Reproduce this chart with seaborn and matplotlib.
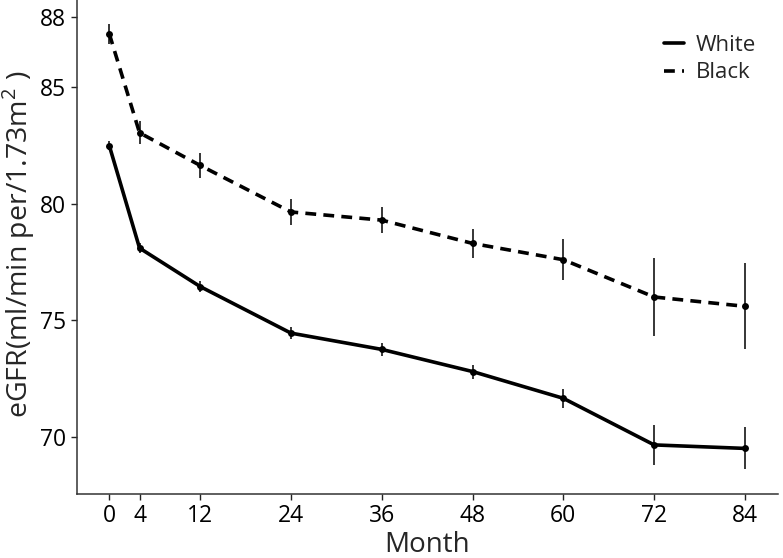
import numpy as np
import pandas as pd
import seaborn as sns
import matplotlib.pyplot as plt

months = [0, 4, 12, 24, 36, 48, 60, 72, 84]
white_mean = [82.5, 78.1, 76.45, 74.45, 73.75, 72.8, 71.65, 69.65, 69.5]
white_err = [0.2, 0.2, 0.22, 0.25, 0.27, 0.3, 0.4, 0.86, 0.9]
black_mean = [87.3, 83.05, 81.65, 79.65, 79.3, 78.3, 77.6, 76.0, 75.6]
black_err = [0.43, 0.5, 0.54, 0.54, 0.56, 0.64, 0.89, 1.69, 1.84]
groups = ['White', 'Black']

df = pd.concat([
    pd.DataFrame({'Month': months, 'eGFR': white_mean, 'err': white_err, 'Race': 'White'}),
    pd.DataFrame({'Month': months, 'eGFR': black_mean, 'err': black_err, 'Race': 'Black'}),
])

sns.set_style('ticks')
plt.rcParams['font.family'] = ['Open Sans', 'DejaVu Sans']
plt.rcParams['mathtext.fontset'] = 'custom'
plt.rcParams['mathtext.rm'] = 'Open Sans'

fig = plt.figure(figsize=(7.83, 5.58), dpi=100)
ax = fig.add_axes([0.098, 0.115, 0.895, 0.885])

sns.lineplot(data=df, x='Month', y='eGFR', style='Race', style_order=groups,
             dashes={'White': '', 'Black': (3.0, 2.0)}, color='black',
             linewidth=2.6, marker='o', markersize=5, markeredgewidth=0,
             ax=ax, legend='brief')

for g in groups:
    sub = df[df['Race'] == g]
    ax.errorbar(sub['Month'], sub['eGFR'], yerr=sub['err'], fmt='none',
                ecolor='black', elinewidth=1.1, capsize=0)

ax.set_xlim(-4.3, 88.3)
ax.set_ylim(67.55, 88.75)
ax.set_xticks(months)
ax.set_yticks([70, 75, 80, 85, 88])
ax.tick_params(labelsize=16.5, length=4, width=1, colors='#222222', labelcolor='black')
ax.set_xlabel('Month', fontsize=20, labelpad=2)
ax.set_ylabel(r'eGFR(ml/min per/1.73m$^{2}$ )', fontsize=20.5)
ax.yaxis.set_label_coords(-0.057, 0.505)
sns.despine(ax=ax)
for s in ['left', 'bottom']:
    ax.spines[s].set_linewidth(1.1)
    ax.spines[s].set_color('#333333')

leg = ax.legend(title=None, frameon=False, fontsize=16, loc='upper right',
                handlelength=0.9, handletextpad=0.55, labelspacing=0.3,
                bbox_to_anchor=(0.998, 0.97))
for line in leg.get_lines():
    line.set_marker('')
    line.set_linewidth(2.6)

fig.savefig('out.png', dpi=100)
